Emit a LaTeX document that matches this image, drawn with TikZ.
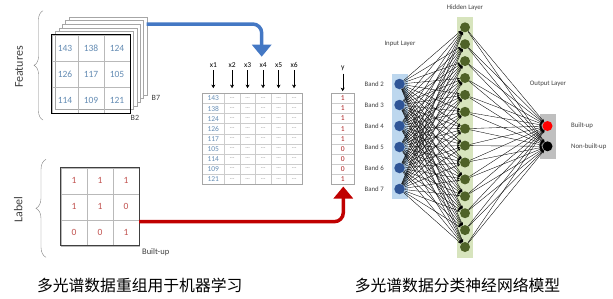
\documentclass[tikz,border=0pt]{standalone}
\usepackage{fontspec}
\setmainfont{Carlito}
\newfontfamily\cjk{Noto Sans CJK SC}
\usetikzlibrary{arrows.meta,decorations.pathreplacing}
\definecolor{featblue}{RGB}{100,140,180}
\definecolor{labred}{RGB}{192,80,77}
\definecolor{ydark}{RGB}{170,30,30}
\definecolor{arrowblue}{RGB}{68,120,196}
\definecolor{arrowred}{RGB}{192,0,0}
\definecolor{bandblue}{RGB}{47,85,151}
\definecolor{inputbg}{RGB}{189,215,238}
\definecolor{hiddenbg}{RGB}{215,228,189}
\definecolor{hiddengreen}{RGB}{79,98,40}
\definecolor{outputbg}{RGB}{191,191,191}
\definecolor{txtgray}{RGB}{64,64,64}
\newcommand\dashcell{-{}-{}-}
\begin{document}
\begin{tikzpicture}[x=1pt, y=-1pt, every node/.style={inner sep=0pt, text=txtgray},
  cell/.style={draw=gray!55, minimum width=26pt, minimum height=26pt, font=\fontsize{9.5}{10}\selectfont},
  tcell/.style={draw=gray!40, minimum height=10.11pt, font=\fontsize{7.5}{8}\selectfont},
  neuron/.style={circle, minimum size=10.5pt, draw=none},
  link/.style={line width=0.35pt, -{Stealth[length=3pt,width=2.5pt]}},
  nettext/.style={font=\fontsize{6.8}{8}\selectfont},
  fatarrow/.style={line width=3.5pt, rounded corners=9pt, -{Triangle[width=19pt,length=12pt]}},
  caption/.style={font=\cjk\fontsize{15.8}{18}\selectfont, text=black}]
\useasboundingbox (0,0) rectangle (613,298);
% Left top: the band stack B2 ... B7
\foreach \k in {5,...,1}
  \draw[gray!70, fill=white] (52+3.4*\k, 35-3.6*\k) rectangle +(78,78);
\foreach \row/\vals in {1/{143,138,124}, 2/{126,117,105}, 3/{114,109,121}}
  \foreach \v [count=\col] in \vals
    \node[cell, text=featblue] (f-\row-\col) at (39+26*\col, 22+26*\row) {\v};
\draw[line width=1.1pt] (f-1-1.north west) rectangle (f-3-3.south east);
\node[anchor=west, font=\fontsize{8}{9}\selectfont] (b7) at (151.5,97.5) {B7};
\node[anchor=west, font=\fontsize{8}{9}\selectfont] (b2) at (130.5,118) {B2};
\draw[gray, decorate, decoration={brace, amplitude=9pt}] (43,120) -- (43,10.7);
\node[rotate=90, font=\fontsize{12}{14}\selectfont] (feat) at (19,67) {Features};
% Left bottom: the label grid
\foreach \row/\vals in {1/{1,1,1}, 2/{1,1,0}, 3/{0,0,1}}
  \foreach \v [count=\col] in \vals
    \node[cell, text=labred] (l-\row-\col) at (48+26*\col, 154.7+26*\row) {\v};
\draw[line width=0.9pt, txtgray] (l-1-1.north west) rectangle (l-3-3.south east);
\node[font=\fontsize{8.5}{9}\selectfont] (lbuilt) at (155.7,252.3) {Built-up};
\draw[gray, decorate, decoration={brace, amplitude=10pt}] (46,257.3) -- (46,159.3);
\node[rotate=90, font=\fontsize{12}{14}\selectfont] (lab) at (18.3,209.3) {Label};
% Middle: the reshaped table, x1 ... x6 and y
\foreach \v [count=\r] in {143,138,124,126,117,105,114,109,121} {
  \node[tcell, minimum width=22pt, text=featblue] (t-\r-1) at (213.3, 88.25+10.11*\r) {\v};
  \foreach \c in {2,...,6}
    \node[tcell, minimum width=15.5pt, text=gray, font=\fontsize{5}{5}\selectfont] (t-\r-\c) at (201.05+15.5*\c, 88.25+10.11*\r) {\dashcell};
}
\draw[gray!70, line width=0.6pt] (t-1-1.north west) rectangle (t-9-6.south east);
\foreach \c/\xx in {1/213.3, 2/232.05, 3/247.55, 4/263.05, 5/278.55, 6/294.05} {
  \node[font=\fontsize{7.5}{9}\selectfont, text=black] (x\c) at (\xx,65) {x\c};
  \draw[-{Stealth[length=3.5pt,width=4pt]}, shorten <=2.5pt, shorten >=5pt] (x\c) -- (t-1-\c.north);
}
\foreach \v [count=\r] in {1,1,1,1,1,0,0,0,1}
  \node[tcell, minimum width=23.3pt, text=ydark] (y-\r) at (342.7, 88.25+10.11*\r) {\v};
\draw[gray!70, line width=0.6pt] (y-1.north west) rectangle (y-9.south east);
\node[font=\fontsize{7.5}{9}\selectfont, text=black] (ylab) at (342.7,68) {y};
\draw[-{Stealth[length=3.5pt,width=4pt]}, shorten <=3pt, shorten >=2pt] (ylab) -- (y-1.north);
% The two fat arrows
\coordinate (stackout) at (146.7,24);
\coordinate (tabin) at (261.7,56.7);
\draw[fatarrow, arrowblue] (stackout) -| (tabin);
\coordinate (labout) at (139,221.7);
\coordinate (yin) at (343.3,186.5);
\draw[fatarrow, arrowred] (labout) -| (yin);
% Right: the network
\fill[inputbg] (392,74) rectangle (407.7,199);
\fill[hiddenbg] (457,17) rectangle (472.5,258);
\fill[outputbg] (540,114) rectangle (555.7,159);
\foreach \b [count=\i] in {2,...,7} {
  \node[neuron, fill=bandblue] (in\i) at (399.5, 63+21*\i) {};
  \node[nettext, anchor=east] (band\i) at (384, 63+21*\i) {Band \b};
}
\foreach \j in {1,...,14}
  \node[neuron, fill=hiddengreen, minimum size=10pt] (h\j) at (465, 10.4+16.9*\j) {};
\node[neuron, fill=red, minimum size=10pt] (out1) at (547.5,126) {};
\node[neuron, fill=black, minimum size=10pt] (out2) at (547.5,146.3) {};
\foreach \i in {1,...,6}
  \foreach \j in {1,...,14}
    \draw[link] (in\i) -- (h\j);
\foreach \j in {1,...,14}
  \foreach \k in {1,2}
    \draw[link] (h\j) -- (out\k);
\node[nettext] (inlab) at (400,44.3) {Input Layer};
\node[nettext] (hidlab) at (465,8) {Hidden Layer};
\node[nettext] (outlab) at (548,84) {Output Layer};
\node[nettext, anchor=west] (obuilt) at (571,126) {Built-up};
\node[nettext, anchor=west] (onon) at (571,146.3) {Non-built-up};
% Captions
\node[caption] (cap1) at (139.7,285) {多光谱数据重组用于机器学习};
\node[caption] (cap2) at (457.5,285) {多光谱数据分类神经网络模型};
\end{tikzpicture}
\end{document}
